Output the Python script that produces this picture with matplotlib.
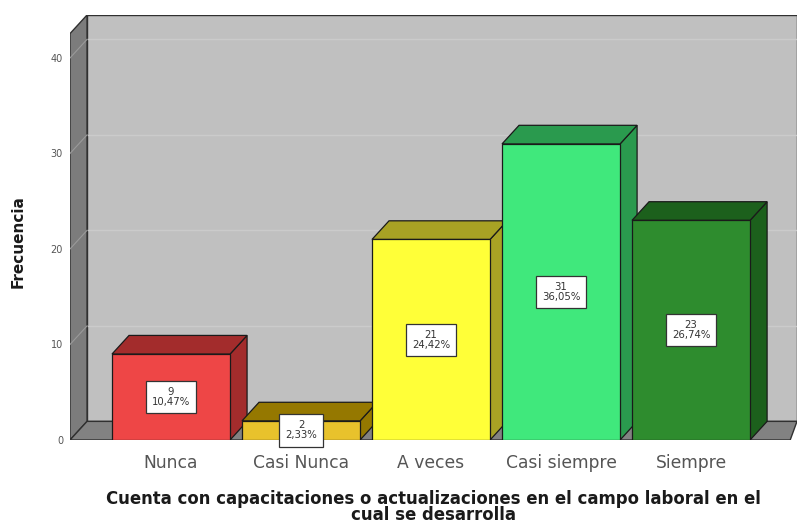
import matplotlib
matplotlib.use("Agg")
import matplotlib.pyplot as plt
from matplotlib.patches import Polygon

categories = ["Nunca", "Casi Nunca", "A veces", "Casi siempre", "Siempre"]
counts = [9, 2, 21, 31, 23]
percents = ["10,47%", "2,33%", "24,42%", "36,05%", "26,74%"]
front_colors = ["#EE4646", "#E8C22C", "#FFFF38", "#40E87C", "#2E8C2E"]
dark_colors = ["#A32C2C", "#957800", "#A8A224", "#2A9A4E", "#1C601C"]
yticks = [0, 10, 20, 30, 40]
xlabel = "Cuenta con capacitaciones o actualizaciones en el campo laboral en el\ncual se desarrolla"
ylabel = "Frecuencia"

plt.rcParams['font.family'] = ['DejaVu Sans']

fig = plt.figure(figsize=(8, 5.28), dpi=100)
ax = fig.add_axes([70 / 800, 88 / 528, 727 / 800, 425 / 528])

# geometry (data units)
xl, xr = -0.777, 4.815
ytop = 44.5
dx, dy = 0.131, 1.95
w = 0.908

ax.set_xlim(xl, xr)
ax.set_ylim(0, ytop)

# back wall
ax.add_patch(Polygon([(xl + dx, dy), (xr, dy), (xr, ytop), (xl + dx, ytop)],
                     closed=True, facecolor="#C0C0C0", edgecolor="#303030", lw=1.0, zorder=1))
# gridlines on back wall and left wall diagonals
for t in yticks[1:]:
    ax.plot([xl + dx, xr], [t + dy, t + dy], color="#CBCBCB", lw=1.0, zorder=1.5)
# left wall
ax.add_patch(Polygon([(xl, 0), (xl, ytop - dy), (xl + dx, ytop), (xl + dx, dy)],
                     closed=True, facecolor="#7C7C7C", edgecolor="#303030", lw=1.0, zorder=2))
for t in yticks[1:]:
    ax.plot([xl, xl + dx], [t, t + dy], color="#9A9A9A", lw=0.8, zorder=2.5)
# floor
ax.add_patch(Polygon([(xl, 0), (xr - dx * 0.4, 0), (xr, dy), (xl + dx, dy)],
                     closed=True, facecolor="#828282", edgecolor="#303030", lw=1.0, zorder=2))

# bars
for i, (v, fc, dc) in enumerate(zip(counts, front_colors, dark_colors)):
    x0, x1 = i - w / 2, i + w / 2
    z = 3 + i
    ax.add_patch(Polygon([(x1, 0), (x1 + dx, dy), (x1 + dx, v + dy), (x1, v)],
                         closed=True, facecolor=dc, edgecolor="#1A1A1A", lw=0.9, zorder=z))
    ax.add_patch(Polygon([(x0, v), (x1, v), (x1 + dx, v + dy), (x0 + dx, v + dy)],
                         closed=True, facecolor=dc, edgecolor="#1A1A1A", lw=0.9, zorder=z))
    ax.add_patch(Polygon([(x0, 0), (x1, 0), (x1, v), (x0, v)],
                         closed=True, facecolor=fc, edgecolor="#1A1A1A", lw=0.9, zorder=z + 0.5))

for i, (v, p) in enumerate(zip(counts, percents)):
    ax.text(i, v / 2, f"{v}\n{p}", ha="center", va="center", fontsize=7.3,
            color="#333333", linespacing=1.0, zorder=20,
            bbox=dict(boxstyle="square,pad=0.6", facecolor="white", edgecolor="#333333", lw=0.9))

ax.set_xticks(range(len(categories)))
ax.set_xticklabels(categories, fontsize=12.3, color="#555555")
ax.set_yticks(yticks)
ax.set_yticklabels([str(t) for t in yticks], fontsize=7, color="#555555")
ax.tick_params(axis="both", length=0)
ax.tick_params(axis="x", pad=10)
ax.tick_params(axis="y", pad=5)
for s in ax.spines.values():
    s.set_visible(False)

ax.set_xlabel(xlabel, fontsize=11.9, fontweight="bold", color="#1A1A1A", linespacing=0.85, labelpad=13)
ax.set_ylabel(ylabel, fontsize=11, fontweight="bold", color="#1A1A1A")
ax.yaxis.set_label_coords(-0.0605, 0.466)

fig.savefig("out.png", dpi=100)
